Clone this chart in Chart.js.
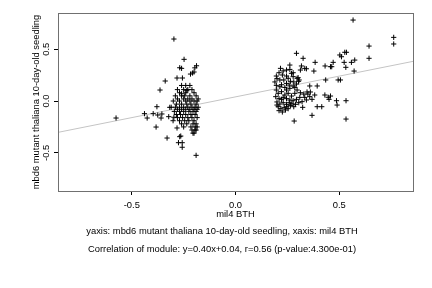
<!DOCTYPE html>
<html>
<head>
<meta charset="utf-8">
<script src="https://cdn.jsdelivr.net/npm/chart.js@4"></script>
<style>
html, body { margin: 0; padding: 0; background: #fff; }
#wrap { width: 432px; height: 288px; }
</style>
</head>
<body>
<div id="wrap"><canvas id="chart" width="432" height="288"></canvas></div>
<script>
// module genes: x = mil4 BTH, y = mbd6 mutant thaliana 10-day-old seedling
const xValues = [
    -0.576, -0.439, -0.426, -0.397, -0.379, -0.375, -0.359, -0.355, -0.383, -0.364,
    -0.339, -0.330, -0.317, -0.322, -0.301, -0.297, -0.297, -0.282, -0.256, -0.282,
    -0.269, -0.264, -0.275, -0.257, -0.257, -0.190, -0.248, -0.269, -0.260, -0.188,
    -0.196, -0.200, -0.207, -0.217,
    -0.240, -0.220, -0.260, -0.280, -0.250, -0.230, -0.210, -0.235, -0.270, -0.240,
    -0.200, -0.260, -0.290, -0.260, -0.245, -0.220, -0.190, -0.280, -0.250, -0.230,
    -0.210, -0.180, -0.300, -0.270, -0.240, -0.220, -0.200, -0.185, -0.285, -0.260,
    -0.235, -0.215, -0.190, -0.310, -0.290, -0.270, -0.250, -0.230, -0.210, -0.195,
    -0.180, -0.280, -0.260, -0.240, -0.220, -0.200, -0.185, -0.295, -0.270, -0.250,
    -0.225, -0.205, -0.190, -0.285, -0.265, -0.240, -0.215, -0.195, -0.280, -0.255,
    -0.230, -0.210, -0.185, -0.270, -0.245, -0.225, -0.200, -0.260, -0.235, -0.205,
    -0.190, -0.250, -0.215, -0.195, -0.185, -0.210, -0.195, -0.190, -0.205, -0.200,
    0.567, 0.763, 0.763, 0.644, 0.644, 0.575, 0.559, 0.572, 0.527, 0.535,
    0.503, 0.511, 0.524, 0.532, 0.471, 0.464, 0.432, 0.458, 0.384, 0.334,
    0.342, 0.378, 0.318, 0.313, 0.294, 0.326, 0.435, 0.495, 0.506, 0.394,
    0.358, 0.369, 0.394, 0.416, 0.369, 0.283, 0.431, 0.447, 0.458, 0.451,
    0.487, 0.490, 0.533, 0.533, 0.307, 0.302,
    0.217, 0.230, 0.246, 0.262, 0.270, 0.262, 0.197, 0.200, 0.214, 0.233,
    0.254, 0.278, 0.297, 0.190, 0.197, 0.222, 0.246, 0.265, 0.281, 0.304,
    0.197, 0.206, 0.222, 0.246, 0.262, 0.286, 0.297, 0.313, 0.329, 0.345,
    0.361, 0.194, 0.210, 0.230, 0.246, 0.262, 0.278, 0.294, 0.310, 0.349,
    0.200, 0.214, 0.230, 0.246, 0.259, 0.272, 0.289, 0.305, 0.321, 0.206,
    0.219, 0.235, 0.248, 0.265, 0.281, 0.210, 0.226, 0.241, 0.254, 0.200,
    0.222, 0.238, 0.254, 0.270, 0.286, 0.214, 0.238, 0.259, 0.278, 0.294,
    0.226, 0.246, 0.278, 0.210, 0.334, 0.342, 0.324, 0.358, 0.382
];
const yValues = [
    -0.164, -0.122, -0.164, -0.122, -0.055, -0.135, -0.164, -0.125, -0.251, 0.106,
    0.193, -0.357, -0.061, -0.151, -0.190, -0.157, 0.598, 0.222, 0.222, -0.260,
    -0.344, -0.338, -0.402, -0.402, -0.446, -0.524, 0.402, 0.321, 0.315, 0.340,
    0.320, 0.280, 0.270, 0.260,
    0.150, 0.150, 0.150, 0.110, 0.110, 0.110, 0.110, 0.100, 0.080, 0.080,
    0.080, 0.070, 0.050, 0.050, 0.050, 0.050, 0.050, 0.020, 0.020, 0.020,
    0.020, 0.020, 0.000, 0.000, 0.000, 0.000, 0.000, 0.000, -0.030, -0.030,
    -0.030, -0.030, -0.030, -0.060, -0.060, -0.060, -0.060, -0.060, -0.060, -0.060,
    -0.060, -0.080, -0.080, -0.080, -0.080, -0.080, -0.080, -0.100, -0.100, -0.100,
    -0.100, -0.100, -0.100, -0.130, -0.130, -0.130, -0.130, -0.130, -0.160, -0.160,
    -0.160, -0.160, -0.160, -0.190, -0.190, -0.190, -0.190, -0.220, -0.220, -0.220,
    -0.220, -0.250, -0.250, -0.250, -0.250, -0.280, -0.280, -0.280, -0.310, -0.310,
    0.781, 0.614, 0.550, 0.530, 0.412, 0.395, 0.373, 0.289, 0.470, 0.470,
    0.444, 0.427, 0.373, 0.325, 0.373, 0.331, 0.338, 0.331, 0.373, 0.315,
    0.311, 0.289, 0.338, 0.299, 0.460, 0.412, 0.203, 0.203, 0.203, 0.145,
    0.145, 0.016, -0.055, -0.055, -0.138, -0.193, 0.058, 0.036, 0.048, 0.016,
    0.003, -0.039, 0.003, -0.174, 0.203, 0.225,
    0.315, 0.290, 0.299, 0.305, 0.267, 0.347, 0.241, 0.216, 0.203, 0.203,
    0.219, 0.235, 0.219, 0.184, 0.151, 0.157, 0.170, 0.190, 0.184, 0.190,
    0.106, 0.074, 0.090, 0.106, 0.122, 0.131, 0.106, 0.080, 0.067, 0.087,
    0.087, 0.042, 0.023, 0.035, 0.023, 0.010, 0.003, 0.016, 0.035, 0.067,
    -0.009, -0.029, -0.016, -0.032, -0.016, -0.026, -0.032, -0.016, -0.006, -0.055,
    -0.074, -0.061, -0.055, -0.042, -0.055, -0.093, -0.106, -0.087, -0.074, -0.039,
    0.016, 0.058, 0.074, 0.048, 0.074, 0.138, 0.131, 0.154, 0.144, 0.164,
    0.251, 0.241, 0.273, 0.273, 0.035, 0.010, -0.061, 0.042, 0.058
];

// fit shown in the caption
const slope = 0.40;
const intercept = 0.04;

const xRange = [-0.856, 0.856];
const yRange = [-0.868, 0.849];
const xTicks = [-0.5, 0.0, 0.5];
const yTicks = [-0.5, 0.0, 0.5];

const xLabel = "mil4 BTH";
const yLabel = "mbd6 mutant thaliana 10-day-old seedling";
const subLines = [
    "yaxis: mbd6 mutant thaliana 10-day-old seedling, xaxis: mil4 BTH",
    "Correlation of module: y=0.40x+0.04, r=0.56 (p-value:4.300e-01)"
];

const FONT = "'Liberation Sans', Arial, Helvetica, sans-serif";

let points = [];
for (let i = 0; i < xValues.length; i++) {
    points.push({ x: xValues[i], y: yValues[i] });
}

let fitLine = [
    { x: xRange[0], y: slope * xRange[0] + intercept },
    { x: xRange[1], y: slope * xRange[1] + intercept }
];

// box around the plot and the R-style labels
const frameAndText = {
    id: 'frameAndText',
    afterDraw(chart) {
        const ctx = chart.ctx;
        const a = chart.chartArea;
        ctx.save();
        ctx.strokeStyle = '#707070';
        ctx.lineWidth = 1;
        ctx.strokeRect(Math.round(a.left) + 0.5, Math.round(a.top) + 0.5,
            Math.round(a.right - a.left), Math.round(a.bottom - a.top));

        ctx.fillStyle = '#000';
        ctx.font = '9.4px ' + FONT;
        ctx.textAlign = 'center';
        ctx.textBaseline = 'middle';
        const cx = (a.left + a.right) / 2;
        ctx.fillText(xLabel, cx, 214);
        // the caption lines sit a little left of the plot centre
        ctx.fillText(subLines[0], 222, 231);
        ctx.fillText(subLines[1], 222, 249);

        ctx.translate(36, (a.top + a.bottom) / 2);
        ctx.rotate(-Math.PI / 2);
        ctx.fillText(yLabel, 0, 0);
        ctx.restore();
    }
};

const tickFont = { family: FONT, size: 9.4 };

const config = {
    type: 'scatter',
    data: {
        datasets: [{
            label: 'genes',
            data: points,
            pointStyle: 'cross',
            pointRadius: 2.6,
            pointBorderColor: '#000',
            pointBorderWidth: 1,
            borderColor: '#000',
            backgroundColor: '#000'
        }, {
            type: 'line',
            label: 'fit',
            data: fitLine,
            borderColor: '#c4c4c4',
            borderWidth: 1,
            pointRadius: 0,
            fill: false
        }]
    },
    options: {
        responsive: false,
        animation: false,
        devicePixelRatio: 1,
        layout: { padding: { left: 0, right: 19, top: 13, bottom: 0 } },
        plugins: {
            legend: { display: false },
            tooltip: { enabled: false }
        },
        scales: {
            x: {
                type: 'linear',
                min: xRange[0],
                max: xRange[1],
                afterBuildTicks: (scale) => { scale.ticks = xTicks.map(v => ({ value: v })); },
                afterFit: (scale) => { scale.height = 97; },
                ticks: {
                    color: '#000',
                    font: tickFont,
                    padding: 5,
                    maxRotation: 0,
                    callback: (v) => Number(v).toFixed(1)
                },
                grid: {
                    display: true,
                    drawOnChartArea: false,
                    drawTicks: true,
                    tickLength: 4,
                    color: '#000'
                },
                border: { display: false }
            },
            y: {
                type: 'linear',
                min: yRange[0],
                max: yRange[1],
                afterBuildTicks: (scale) => { scale.ticks = yTicks.map(v => ({ value: v })); },
                afterFit: (scale) => { scale.width = 58; },
                ticks: {
                    color: '#000',
                    font: tickFont,
                    padding: 0,
                    minRotation: 90,
                    maxRotation: 90,
                    crossAlign: 'center',
                    callback: (v) => Number(v).toFixed(1)
                },
                grid: {
                    display: true,
                    drawOnChartArea: false,
                    drawTicks: true,
                    tickLength: 4,
                    color: '#000'
                },
                border: { display: false }
            }
        }
    },
    plugins: [frameAndText]
};

const chart = new Chart(document.getElementById('chart'), config);
</script>
</body>
</html>
